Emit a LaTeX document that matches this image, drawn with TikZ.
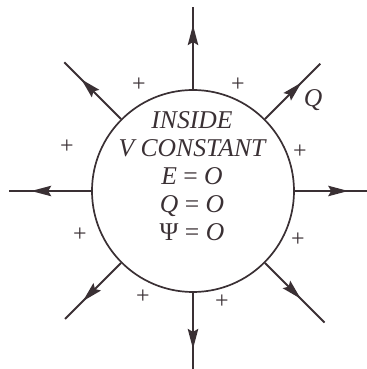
\documentclass[tikz,border=0pt]{standalone}
\usepackage{fontspec}
\setmainfont{Liberation Serif}
\usetikzlibrary{arrows.meta,decorations.markings}
\definecolor{figInk}{HTML}{3A3034}
\tikzset{
  ballbox/.style    = {circle, draw=figInk, line width=0.85pt,
                       minimum size=101pt, inner sep=0pt},
  fieldline/.style  = {line width=1pt, draw=figInk, postaction=decorate,
                       decoration={markings, mark=at position #1 with
                       {\arrow{Stealth[length=10pt,width=5.2pt,inset=1.5pt]}}}},
  fieldline/.default = 0.72,
  chargemark/.style = {font=\large, text=figInk, inner sep=1pt},
  insidetxt/.style  = {font=\fontsize{12.8}{14}\selectfont\itshape,
                       align=center, text=figInk, inner sep=0pt},
}

\begin{document}
\begin{tikzpicture}[x=0.5pt, y=0.5pt]
  \useasboundingbox (-193,-178) rectangle (174,191);

  % charged conductor
  \node[ballbox] (ball) at (0,0) {};
  \node[insidetxt] (inside) at (-1,15)
    {INSIDE\\V CONSTANT\\E {\upshape=} O\\Q {\upshape=} O\\{\upshape Ψ} {\upshape=} O};

  % field lines leaving the surface
  \foreach \ang/\len/\pos in {0/176/0.72, 45/180/0.66, 90/184/0.78, 135/182/0.70,
                              180/184/0.73, 225/181/0.68, 270/182/0.70, 315/186/0.60} {
    \coordinate (end\ang) at (\ang:\len);
    \draw[fieldline=\pos] (ball.\ang) -- (end\ang);
  }
  \node[insidetxt] (qlabel) at (120,91) {Q};

  % surface charges
  \node[chargemark] (p1) at (-54,106) {+};
  \node[chargemark] (p2) at (45,106) {+};
  \node[chargemark] (p3) at (-126,44) {+};
  \node[chargemark] (p4) at (107,39) {+};
  \node[chargemark] (p5) at (-113,-44) {+};
  \node[chargemark] (p6) at (105,-49) {+};
  \node[chargemark] (p7) at (-50,-106) {+};
  \node[chargemark] (p8) at (29,-111) {+};
\end{tikzpicture}
\end{document}
